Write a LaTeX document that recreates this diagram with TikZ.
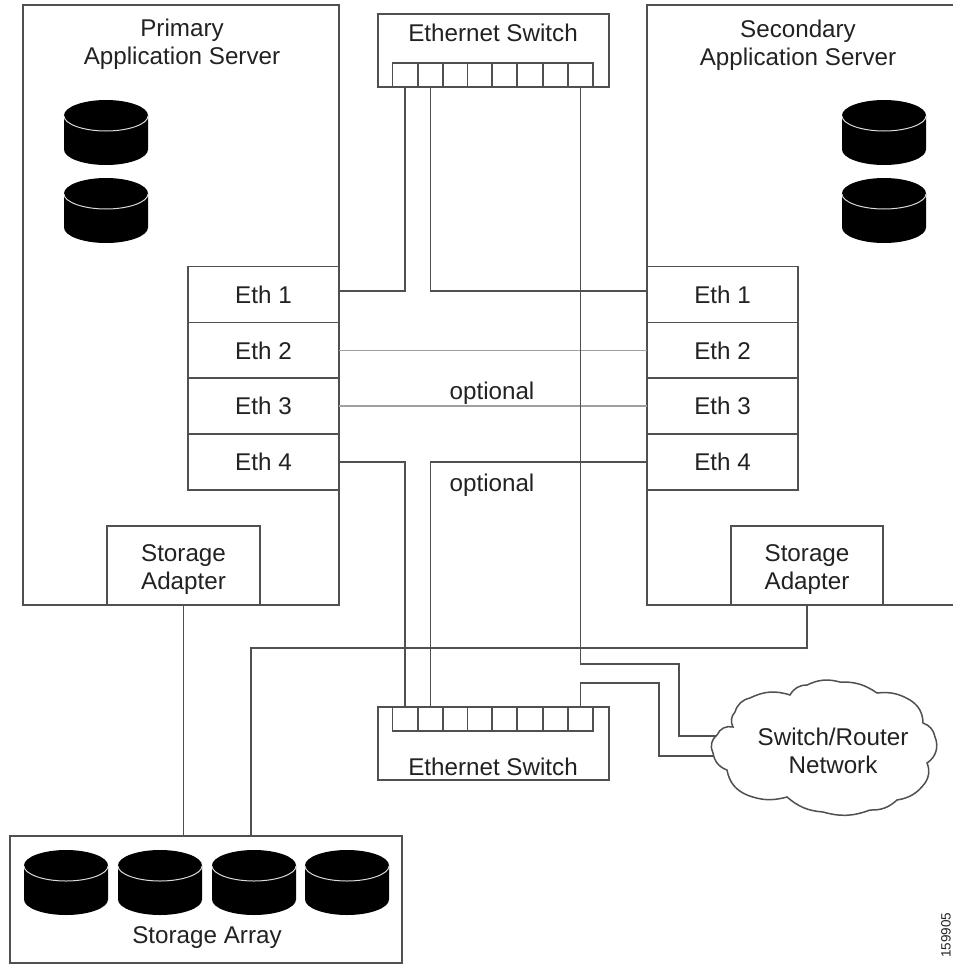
\documentclass[tikz,border=0pt]{standalone}
\usepackage{fontspec}
\setmainfont{Liberation Sans}
\tikzset{
  box/.style={draw=linecol,line width=1.5pt,fill=white,inner sep=0pt,outer sep=0pt,align=center,text=textcol,font=\lbl},
  txt/.style={inner sep=0pt,outer sep=0pt,align=center,text=textcol,font=\lbl},
  port/.style={draw=linecol,line width=1.5pt,fill=white,inner sep=0pt,outer sep=0pt,minimum width=25pt,minimum height=24pt},
  wire/.style={draw=linecol,line width=1.5pt},
  palewire/.style={draw=palecol,line width=1.8pt},
  disk/.pic={
    \fill[black] (0,15.5) .. controls (0,7) and (19,0) .. (42,0) .. controls (65,0) and (84,7) .. (84,15.5)
      -- (84,49.5) .. controls (84,58) and (65,65) .. (42,65) .. controls (19,65) and (0,58) .. (0,49.5) -- cycle;
    \draw[white!85!black,line width=1pt] (0,16) .. controls (0,24) and (19,31) .. (42,31) .. controls (65,31) and (84,24) .. (84,16);
  }
}
\definecolor{linecol}{HTML}{505050}
\definecolor{palecol}{HTML}{A0A0A0}
\definecolor{textcol}{HTML}{222222}
\newcommand{\lbl}{\fontsize{24.2}{28}\selectfont}
\begin{document}
\begin{tikzpicture}[x=1pt,y=-1pt]
\useasboundingbox (0,0) rectangle (953,964);
% servers
\node[box,minimum width=316pt,minimum height=600pt] (primary) at (181,305) {};
\draw[wire] (953,5) -- (647,5) -- (647,605) -- (953,605);
\node[txt] (primaryLabel) at (182,44) {Primary\\Application Server};
\node[txt] (secondaryLabel) at (798,45) {Secondary\\Application Server};
% disks
\pic at (64,100) {disk};
\pic at (64,178) {disk};
\pic at (842,100) {disk};
\pic at (842,178) {disk};
% Eth ports
\node[box,minimum width=151pt,minimum height=56pt] (l1) at (263.5,294.5) {Eth 1};
\node[box,minimum width=151pt,minimum height=56pt] (l2) at (263.5,350.5) {Eth 2};
\node[box,minimum width=151pt,minimum height=56pt] (l3) at (263.5,406) {Eth 3};
\node[box,minimum width=151pt,minimum height=56pt] (l4) at (263.5,462) {Eth 4};
\node[box,minimum width=151pt,minimum height=56pt] (r1) at (722.5,294.5) {Eth 1};
\node[box,minimum width=151pt,minimum height=56pt] (r2) at (722.5,350.5) {Eth 2};
\node[box,minimum width=151pt,minimum height=56pt] (r3) at (722.5,406) {Eth 3};
\node[box,minimum width=151pt,minimum height=56pt] (r4) at (722.5,462) {Eth 4};
% storage adapters
\node[box,minimum width=153pt,minimum height=79pt] (saL) at (183.5,565.5) {};
\node[box,minimum width=152pt,minimum height=79pt] (saR) at (807,565.5) {};
\node[txt] (saLLabel) at (183.5,569.5) {Storage\\Adapter};
\node[txt] (saRLabel) at (807,569.5) {Storage\\Adapter};
% switches
\node[box,minimum width=231pt,minimum height=73pt] (swT) at (493.5,50.5) {};
\node[box,minimum width=231pt,minimum height=73pt] (swB) at (493.5,743.5) {};
\node[txt] (swTLabel) at (493,33) {Ethernet Switch};
\node[txt] (swBLabel) at (493,767) {Ethernet Switch};
\foreach \i/\x in {1/405,2/430.5,3/455.5,4/480,5/504.5,6/530,7/555.5,8/580.5}{
  \node[port] (tp\i) at (\x,75) {};
  \node[port] (bp\i) at (\x,719) {};
}
% storage array
\node[box,minimum width=392pt,minimum height=127pt] (array) at (206,899.5) {};
\pic at (24,850) {disk};
\pic at (118,850) {disk};
\pic at (212,850) {disk};
\pic at (305,850) {disk};
\node[txt] (arrayLabel) at (207,938) {Storage Array};
% cloud
\draw[wire,fill=white] (717,735) to[bend left=40] (733,727) to[bend left=35] (735,712)
  to[bend left=30] (750,698) to[bend left=22] (790,695) to[bend left=30] (807,685)
  to[bend left=20] (840,682) to[bend left=18] (877,693) to[bend left=18] (910,700)
  to[bend left=28] (923,723) to[bend left=30] (935,737) to[bend left=40] (927,763)
  to[bend left=28] (925,783) to[bend left=22] (897,800) to[bend left=22] (870,810)
  to[bend left=18] (823,812) to[bend left=18] (787,797) to[bend left=18] (747,795)
  to[bend left=28] (727,770) to[bend left=30] (713,753) to[bend left=40] (717,735) -- cycle;
\node[txt] (cloud) at (833,751) {Switch/Router\\Network};
\coordinate (cloudA) at (716,736);
\coordinate (cloudB) at (713,756);
\coordinate (arrIn) at (251,836);
% connectors
\draw[wire] (tp1.south) |- ([yshift=3.5pt]l1.east);
\draw[wire] (tp2.south) |- ([yshift=3.5pt]r1.west);
\draw[palewire] (l2.east) -- (r2.west);
\draw[palewire] (l3.east) -- (r3.west);
\draw[wire] (l4.east) -| (bp1.north);
\draw[wire] (r4.west) -| (bp2.north);
\draw[wire] (tp8.south) |- (679,664) |- (cloudA);
\draw[wire] (bp8.north) |- (659,683) |- (cloudB);
\draw[wire] (saL.south) -- (saL.south |- array.north);
\draw[wire] (saR.south) |- (251,648) -- (arrIn);
% labels
\node[txt] (opt1) at (492,393) {optional};
\node[txt] (opt2) at (492,485) {optional};
\node[txt,rotate=90,font=\fontsize{13.5}{15}\selectfont] (code) at (946,935) {159905};
\end{tikzpicture}
\end{document}
